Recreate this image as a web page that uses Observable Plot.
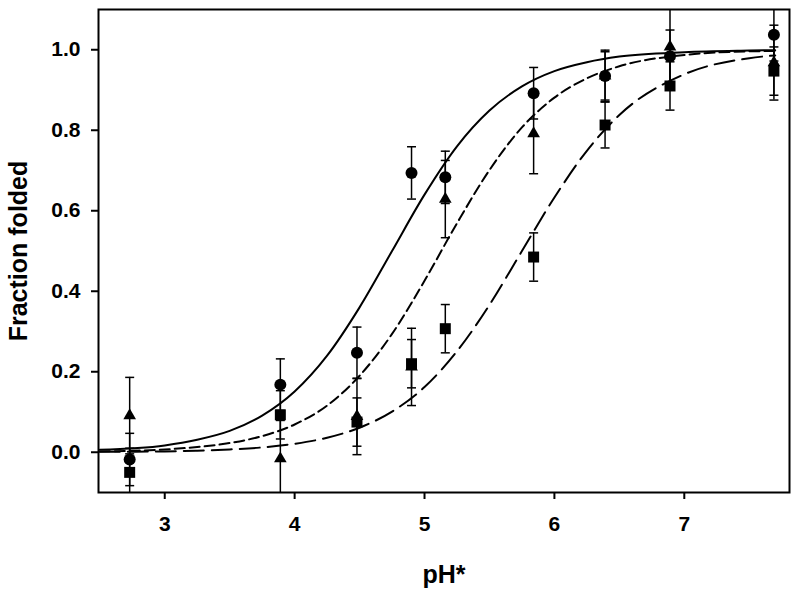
<!DOCTYPE html>
<html>
<head>
<meta charset="utf-8">
<script src="https://cdn.jsdelivr.net/npm/d3@7"></script>
<script src="https://cdn.jsdelivr.net/npm/@observablehq/plot@0.6"></script>
<style>
  html, body { margin: 0; padding: 0; background: #fff; }
  #chart { width: 800px; height: 592px; }
</style>
</head>
<body>
<div id="chart"></div>
<script>
// ---- measured data (pH*, fraction folded, error) ----
const pH = [2.73, 3.89, 4.48, 4.90, 5.16, 5.84, 6.39, 6.89, 7.69];
const circleY = [-0.018, 0.168, 0.247, 0.694, 0.683, 0.892, 0.935, 0.984, 1.037];
const circleErr = [0.065, 0.064, 0.064, 0.065, 0.065, 0.064, 0.064, 0.065, 0.065];
const triangleY = [0.091, -0.016, 0.089, 0.212, 0.629, 0.792, 0.935, 1.007, 0.968];
const triangleErr = [0.095, 0.095, 0.095, 0.096, 0.096, 0.100, 0.060, 0.095, 0.093];
const squareY = [-0.050, 0.093, 0.075, 0.220, 0.307, 0.485, 0.813, 0.910, 0.947];
const squareErr = [0.060, 0.060, 0.060, 0.060, 0.060, 0.060, 0.057, 0.060, 0.060];

// ---- fitted curves ----
const curvePH = [2.5, 3.0, 3.25, 3.5, 3.75, 4.0, 4.25, 4.5, 4.75, 5.0, 5.25, 5.5, 5.75, 6.0, 6.25, 6.5, 7.0, 7.5, 7.7];
const solidFit = [0.006, 0.017, 0.031, 0.053, 0.091, 0.151, 0.240, 0.360, 0.500, 0.640, 0.760, 0.849, 0.909, 0.947, 0.969, 0.983, 0.994, 0.998, 0.999];
const shortDashFit = [0.002, 0.007, 0.013, 0.023, 0.040, 0.069, 0.116, 0.190, 0.294, 0.426, 0.569, 0.701, 0.807, 0.881, 0.929, 0.959, 0.987, 0.996, 0.997];
const longDashFit = [0.001, 0.002, 0.004, 0.007, 0.012, 0.021, 0.036, 0.061, 0.101, 0.162, 0.251, 0.366, 0.500, 0.633, 0.749, 0.838, 0.939, 0.979, 0.986];

// ---- axis ticks ----
const xTicks = [3, 4, 5, 6, 7];
const yTicks = [0.0, 0.2, 0.4, 0.6, 0.8, 1.0];
const xLabel = "pH*";
const yLabel = "Fraction folded";

const toPoints = (ys, errs) => pH.map((x, i) => ({x, y: ys[i], lo: ys[i] - errs[i], hi: ys[i] + errs[i]}));
const circles = toPoints(circleY, circleErr);
const triangles = toPoints(triangleY, triangleErr);
const squares = toPoints(squareY, squareErr);
const curve = (ys) => curvePH.map((x, i) => ({x, y: ys[i]}));

const capSymbol = { draw(ctx) { ctx.moveTo(-4.5, 0); ctx.lineTo(4.5, 0); } };
const font = "'Liberation Sans', Arial, Helvetica, sans-serif";

function errMarks(data) {
  return [
    Plot.ruleX(data, {x: "x", y1: "lo", y2: "hi", stroke: "black", strokeWidth: 1.5, clip: true}),
    Plot.dot(data, {x: "x", y: "hi", symbol: capSymbol, stroke: "black", strokeWidth: 1.5, clip: true}),
    Plot.dot(data, {x: "x", y: "lo", symbol: capSymbol, stroke: "black", strokeWidth: 1.5, clip: true})
  ];
}

const chart = Plot.plot({
  width: 800,
  height: 592,
  marginLeft: 98,
  marginRight: 11,
  marginTop: 9,
  marginBottom: 100,
  style: {fontFamily: font, fontSize: "21px", fontWeight: "bold", background: "white", color: "black"},
  x: {domain: [2.49, 7.81]},
  y: {domain: [-0.1, 1.1]},
  marks: [
    Plot.axisX({ticks: xTicks, tickSize: 7, tickPadding: 17, tickFormat: d => String(d), strokeWidth: 2, label: null, fontSize: 21, fontWeight: "bold"}),
    Plot.axisY({ticks: yTicks, tickSize: 7, tickPadding: 11, tickFormat: d => d.toFixed(1), strokeWidth: 2, label: null, fontSize: 21, fontWeight: "bold"}),
    Plot.line(curve(solidFit), {x: "x", y: "y", curve: "monotone-x", stroke: "black", strokeWidth: 2, clip: true}),
    Plot.line(curve(shortDashFit), {x: "x", y: "y", curve: "monotone-x", stroke: "black", strokeWidth: 2, strokeDasharray: "10,5", clip: true}),
    Plot.line(curve(longDashFit), {x: "x", y: "y", curve: "monotone-x", stroke: "black", strokeWidth: 2, strokeDasharray: "20,8", clip: true}),
    ...errMarks(squares),
    ...errMarks(triangles),
    ...errMarks(circles),
    Plot.dot(squares, {x: "x", y: "y", symbol: "square", r: 6.2, fill: "black", clip: true}),
    Plot.dot(triangles, {x: "x", y: "y", symbol: "triangle", r: 4.7, fill: "black", clip: true}),
    Plot.dot(circles, {x: "x", y: "y", symbol: "circle", r: 6, fill: "black", clip: true}),
    Plot.frame({stroke: "black", strokeWidth: 2}),
    Plot.text([yLabel], {frameAnchor: "left", text: d => d, rotate: -90, dx: -80, lineAnchor: "middle", textAnchor: "middle", fontSize: 25, fontWeight: "bold", fill: "black"}),
    Plot.text([xLabel], {frameAnchor: "bottom", text: d => d, dy: 82, lineAnchor: "middle", textAnchor: "middle", fontSize: 25, fontWeight: "bold", fill: "black"})
  ]
});
document.getElementById("chart").appendChild(chart);
</script>
</body>
</html>
